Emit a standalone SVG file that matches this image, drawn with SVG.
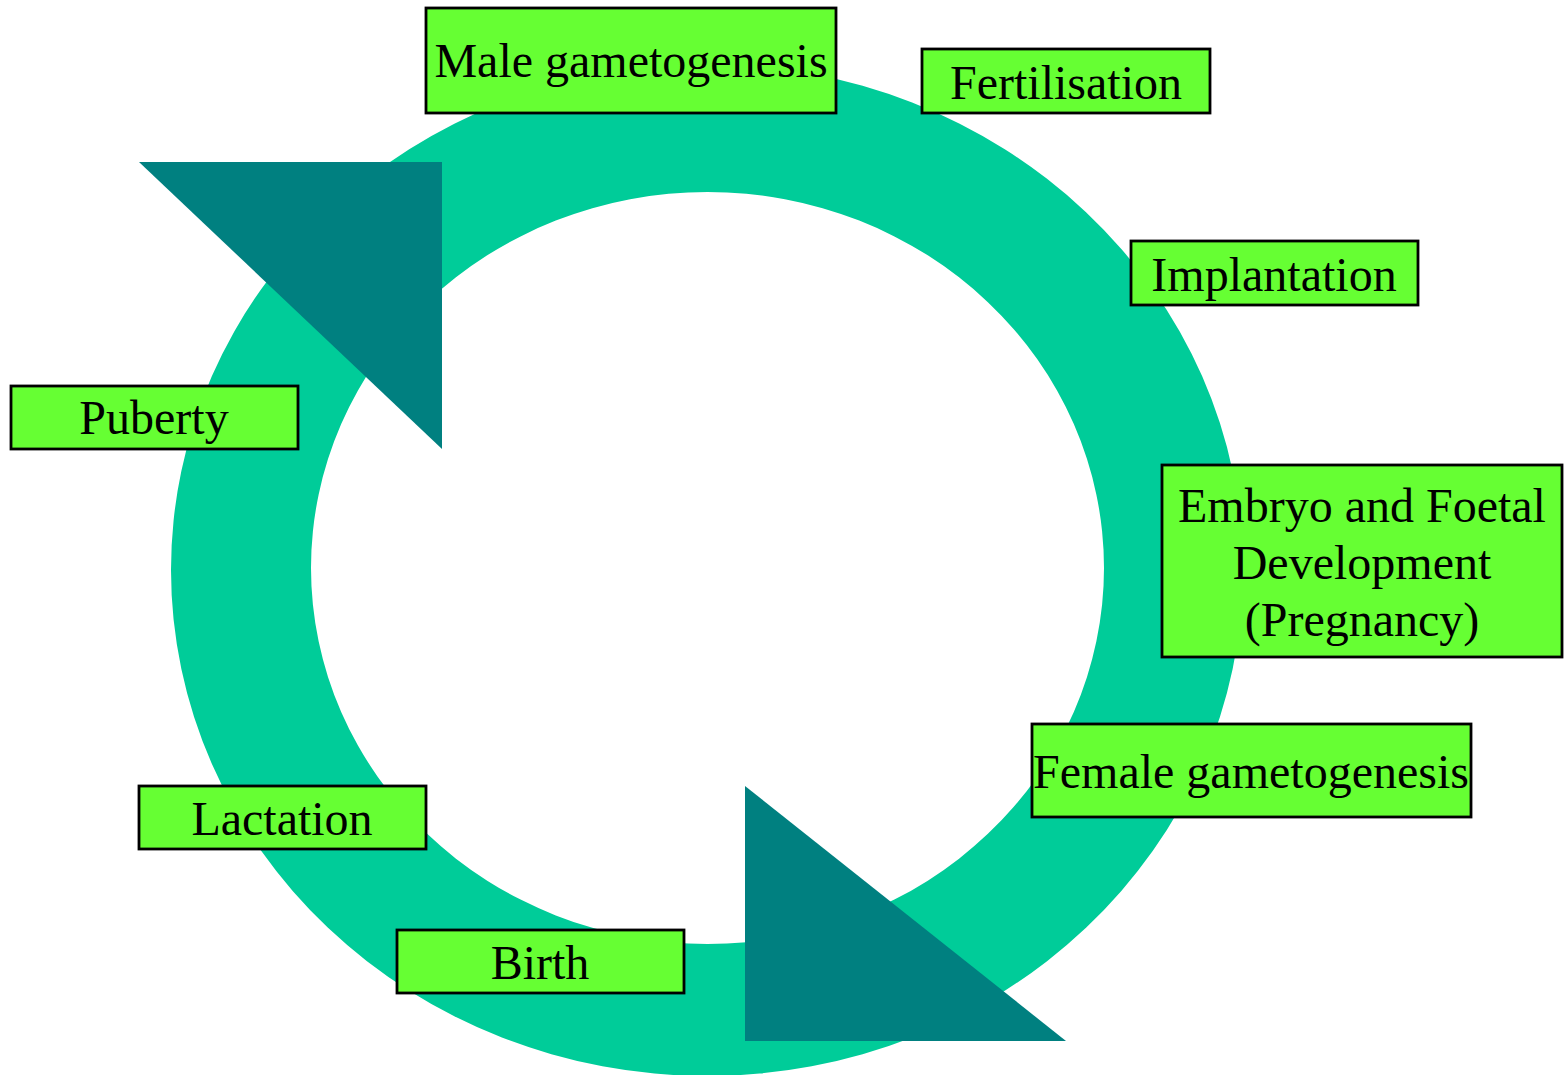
<svg xmlns="http://www.w3.org/2000/svg" width="1565" height="1075" viewBox="0 0 1565 1075">
<style>
.box{fill:#66FF33;stroke:#000;stroke-width:2.8}
.lbl{font-family:"Liberation Serif","Times New Roman",serif;font-size:48px;fill:#000;text-anchor:middle}
.tri{fill:#008080}
</style>
<rect width="1565" height="1075" fill="#fff"/>
<g id="ring">
<path fill="#00CC99" fill-rule="evenodd" d="M171,570 A536,506 0 1,0 1243,570 A536,506 0 1,0 171,570 Z M311,568 A396.5,376 0 1,0 1104,568 A396.5,376 0 1,0 311,568 Z"/>
</g>
<g id="connectors">
<polygon class="tri" points="139,162 442,162 442,449"/>
<polygon class="tri" points="745,786 745,1041 1066,1041"/>
</g>
<g id="male"><rect class="box" x="426" y="8" width="410" height="105"/><text class="lbl" x="631" y="77">Male gametogenesis</text></g>
<g id="fertilisation"><rect class="box" x="922" y="49" width="288" height="64"/><text class="lbl" x="1066" y="99">Fertilisation</text></g>
<g id="implantation"><rect class="box" x="1131" y="241" width="287" height="64"/><text class="lbl" x="1274" y="291">Implantation</text></g>
<g id="embryo"><rect class="box" x="1162" y="465" width="400" height="192"/><text class="lbl" x="1362" y="522">Embryo and Foetal</text><text class="lbl" x="1362" y="579">Development</text><text class="lbl" x="1362" y="636">(Pregnancy)</text></g>
<g id="female"><rect class="box" x="1032" y="724" width="439" height="93"/><text class="lbl" x="1251" y="788">Female gametogenesis</text></g>
<g id="birth"><rect class="box" x="397" y="930" width="287" height="63"/><text class="lbl" x="540" y="979">Birth</text></g>
<g id="lactation"><rect class="box" x="139" y="786" width="287" height="63"/><text class="lbl" x="282" y="835">Lactation</text></g>
<g id="puberty"><rect class="box" x="11" y="386" width="287" height="63"/><text class="lbl" x="154" y="434">Puberty</text></g>
</svg>
